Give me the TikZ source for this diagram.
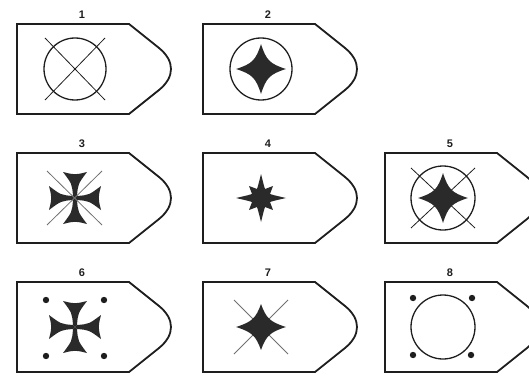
\documentclass[tikz,border=0pt]{standalone}
\usepackage{fontspec}
\setsansfont{Liberation Sans}
\definecolor{ink}{HTML}{1E1E1E}
\definecolor{starfill}{HTML}{2A2A2A}
\definecolor{thin}{HTML}{707070}
\begin{document}
\begin{tikzpicture}[x=1pt,y=-1pt,
  shield/.style={draw=ink,line width=1.8pt,line join=miter},
  ring/.style={draw=ink,line width=1.3pt},
  xline/.style={draw=ink,line width=0.8pt},
  gline/.style={draw=thin,line width=0.8pt},
  dotm/.style={fill=ink},
  starf/.style={fill=starfill},
  num/.style={font=\sffamily\bfseries\fontsize{11}{11}\selectfont,inner sep=0pt,text=ink}]
\useasboundingbox (0,0) rectangle (529,377);
\clip (0,0) rectangle (529,377);
\newcommand\myshield[4]{% name, L, T, label
  \draw[shield] (#2,#3) -- (#2+112,#3) -- (#2+142,#3+24)
     .. controls (#2+158,#3+37) and (#2+158,#3+53) .. (#2+142,#3+66) -- (#2+112,#3+90) -- (#2,#3+90) -- cycle;
  \coordinate (#1) at (#2+58,#3+45);
  \node[num] (#1lab) at (#2+65,#3-9) {#4};
}
\newcommand\mystarfour[2]{%
  \fill[starf,shift={(#1)}] (25,0) .. controls (9,5) and (5,9) .. (0,#2)
    .. controls (-5,9) and (-9,5) .. (-25,0)
    .. controls (-9,-5) and (-5,-9) .. (0,-#2)
    .. controls (5,-9) and (9,-5) .. (25,0) -- cycle;
}
\newcommand\mystareight[1]{%
  \fill[starf,shift={(#1)}] (25,0) .. controls (12,3) .. (9,4) -- (12,12) -- (4,9) .. controls (3,12) .. (0,24) .. controls (-3,12) .. (-4,9) -- (-12,12) -- (-9,4) .. controls (-12,3) .. (-25,0) .. controls (-12,-3) .. (-9,-4) -- (-12,-12) -- (-4,-9) .. controls (-3,-12) .. (0,-24) .. controls (3,-12) .. (4,-9) -- (12,-12) -- (9,-4) .. controls (12,-3) .. (25,0) -- cycle;
}
\newcommand\mycross[1]{%
  \foreach \a in {0,90,180,270}
    \fill[starf,shift={(#1)},rotate=\a] (0,0) -- (2,-2) .. controls (3,-14) .. (12,-26)
      .. controls (0,-23) .. (-12,-26) .. controls (-3,-14) .. (-2,-2) -- cycle;
}
% shields
\myshield{s1}{17}{24}{1}
\myshield{s2}{203}{24}{2}
\myshield{s3}{17}{153}{3}
\myshield{s4}{203}{153}{4}
\myshield{s5}{385}{153}{5}
\myshield{s6}{17}{282}{6}
\myshield{s7}{203}{282}{7}
\myshield{s8}{385}{282}{8}
% 1
\draw[ring] (s1) circle (31);
\draw[xline] ([shift={(-30,-31)}]s1) -- ([shift={(30,31)}]s1);
\draw[xline] ([shift={(30,-31)}]s1) -- ([shift={(-30,31)}]s1);
% 2
\draw[ring] (s2) circle (31);
\mystarfour{s2}{25}
% 3
\mycross{s3}
\draw[gline] ([shift={(-28,-27)}]s3) -- ([shift={(27,27)}]s3);
\draw[gline] ([shift={(27,-27)}]s3) -- ([shift={(-28,27)}]s3);
% 4
\mystareight{s4}
% 5
\draw[ring] (s5) circle (32);
\draw[xline] ([shift={(-32,-30)}]s5) -- ([shift={(32,30)}]s5);
\draw[xline] ([shift={(32,-30)}]s5) -- ([shift={(-32,30)}]s5);
\mystarfour{s5}{25}
% 6
\mycross{s6}
\foreach \dx/\dy in {-29/-27,29/-27,-29/29,29/29}
  \fill[dotm] ([shift={(\dx,\dy)}]s6) circle (3.2);
% 7
\draw[gline] ([shift={(-27,-27)}]s7) -- ([shift={(27,27)}]s7);
\draw[gline] ([shift={(27,-27)}]s7) -- ([shift={(-27,27)}]s7);
\mystarfour{s7}{23}
% 8
\draw[ring] (s8) circle (32);
\foreach \dx/\dy in {-30/-29,29/-29,-30/28,28/28}
  \fill[dotm] ([shift={(\dx,\dy)}]s8) circle (3.2);
\end{tikzpicture}
\end{document}
